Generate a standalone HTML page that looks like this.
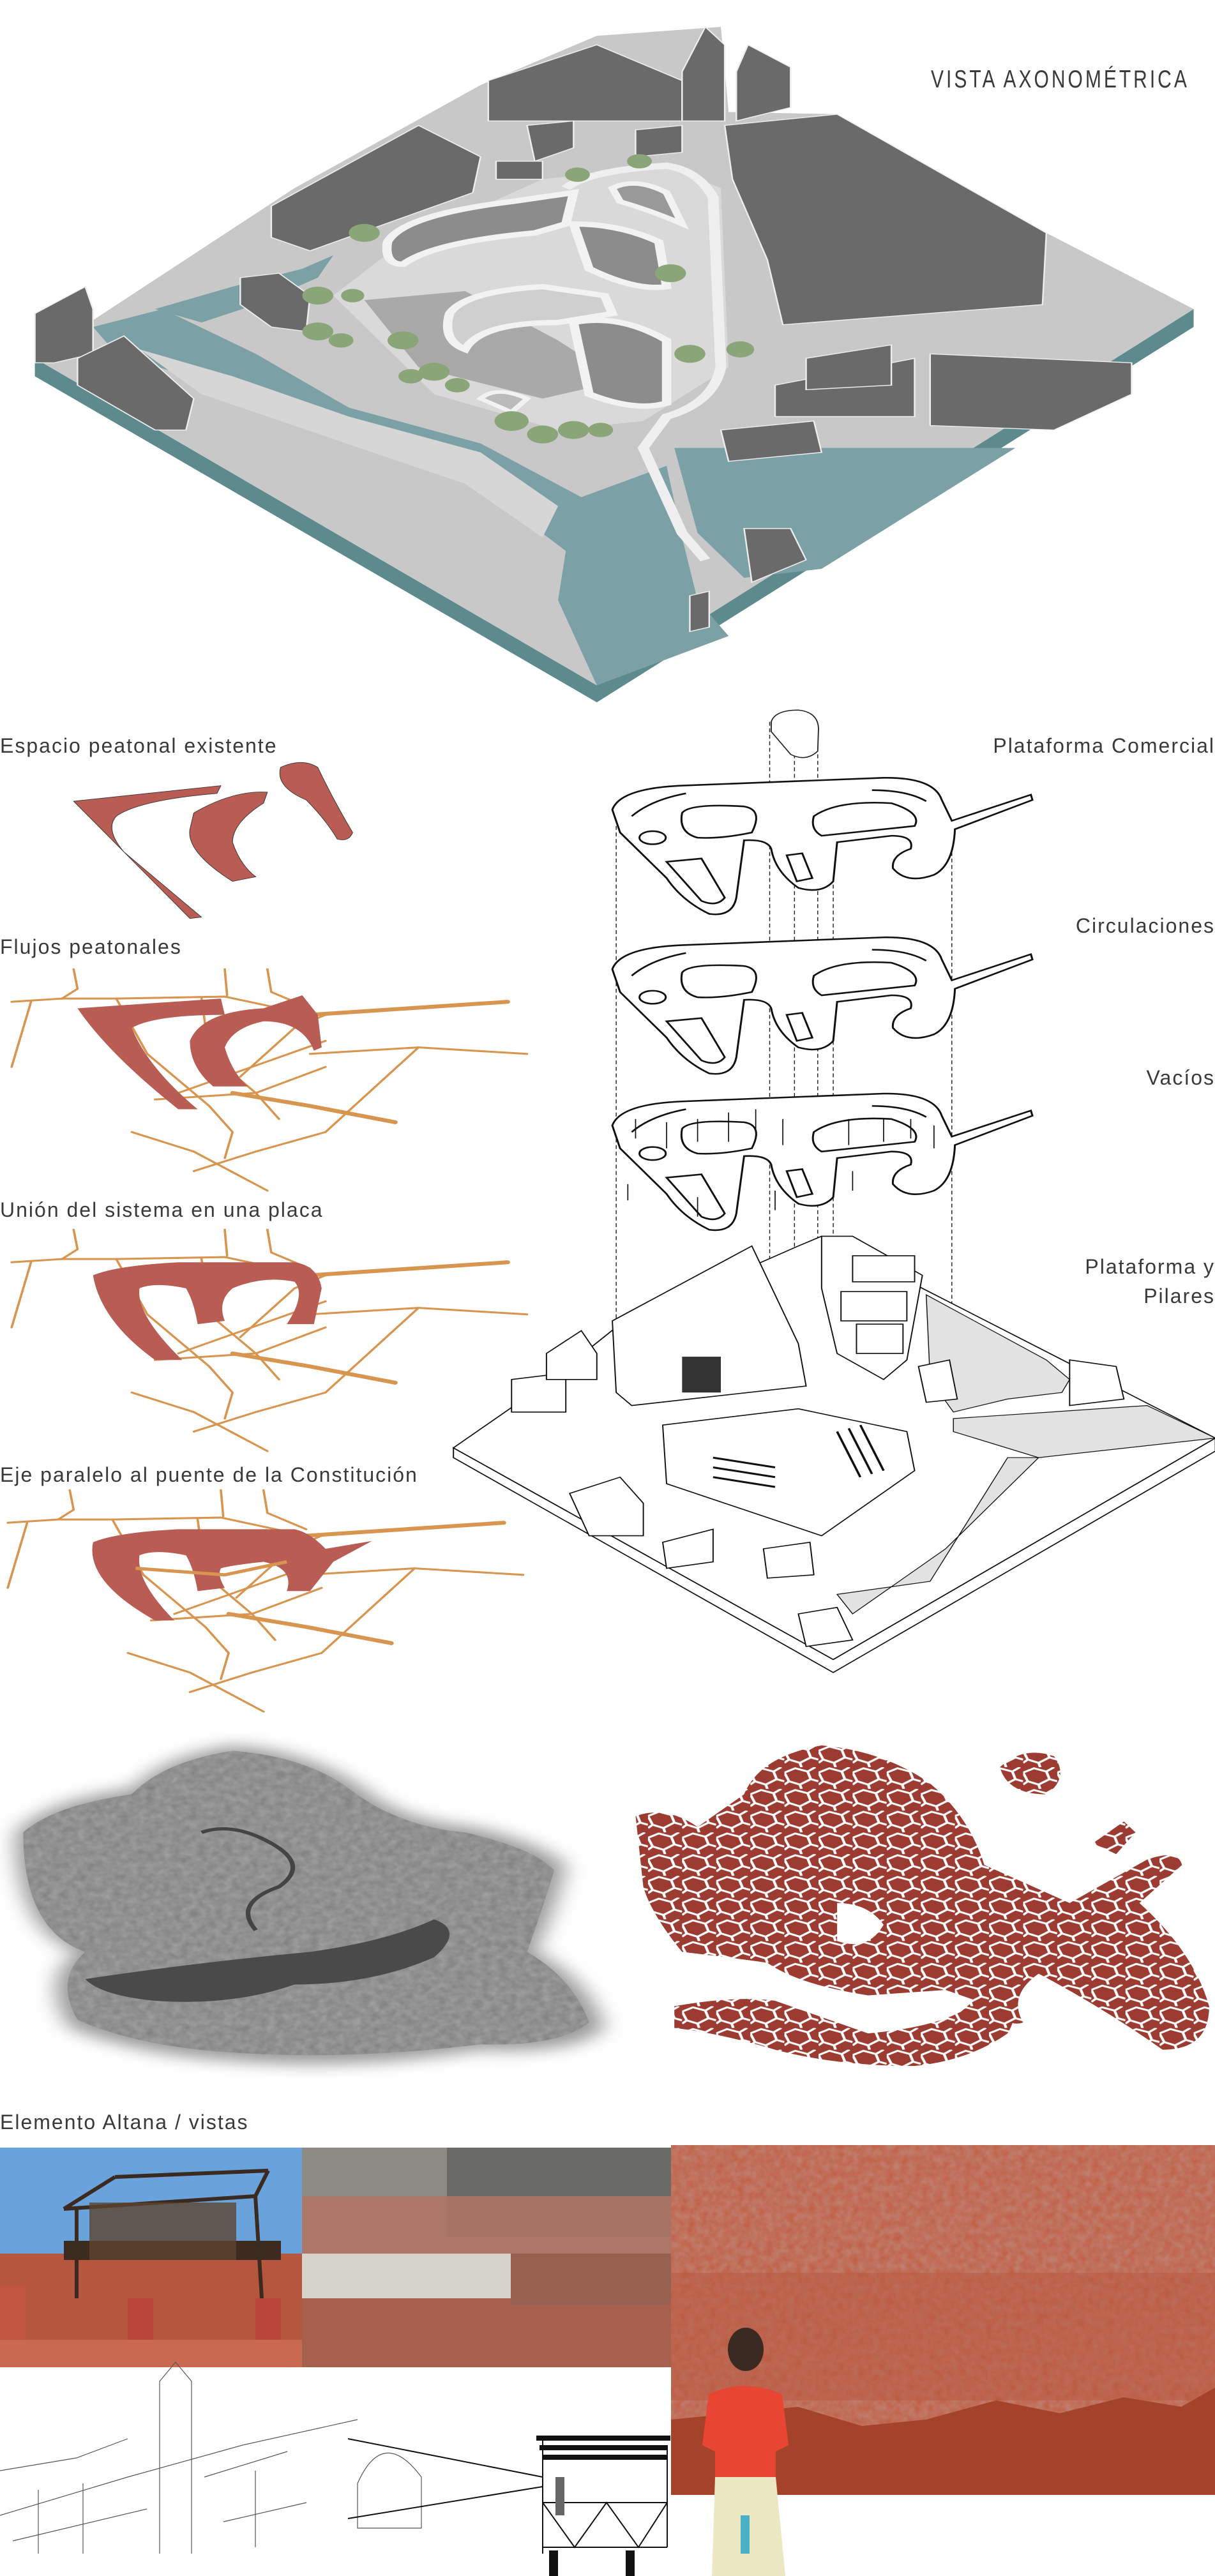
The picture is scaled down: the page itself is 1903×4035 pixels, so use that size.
<!DOCTYPE html>
<html><head><meta charset="utf-8">
<style>
html,body{margin:0;padding:0;background:#fff;}
body{width:1903px;height:4035px;position:relative;overflow:hidden;}
.t{position:absolute;font-family:"Liberation Sans Narrow","Liberation Sans",sans-serif;color:#3a3a3a;font-size:32px;letter-spacing:2px;white-space:nowrap;line-height:1;}
svg{position:absolute;left:0;top:0;}
</style></head><body>
<svg width="1903" height="4035" viewBox="0 0 1903 4035">
<defs>
<pattern id="cells" width="44" height="40" patternUnits="userSpaceOnUse">
<path d="M0,10 L14,2 L30,8 L40,0 M30,8 L34,22 L44,26 M34,22 L20,32 L6,26 L0,10 M20,32 L22,40 M6,26 L0,32" stroke="#fff" stroke-width="3.5" fill="none"/>
</pattern>
<filter id="blur"><feGaussianBlur stdDeviation="14"/></filter>
<filter id="noise"><feTurbulence type="fractalNoise" baseFrequency="0.09" numOctaves="2"/><feColorMatrix values="0 0 0 0 0.5  0 0 0 0 0.5  0 0 0 0 0.5  0 0 0 0.9 0"/><feComposite in2="SourceGraphic" operator="in"/></filter>
</defs>

<g transform="matrix(1.214 0 0 0.7016 0 0)">
<polygon points="45,800 770,1530 1540,690 1540,730 770,1568 45,840" fill="#5c8a8d"/>
<polygon points="45,800 380,420 620,190 770,80 930,60 940,250 1080,255 1350,520 1540,690 770,1530" fill="#c8c8c8"/>
<polygon points="120,730 210,690 330,790 450,910 620,990 750,1110 860,1040 880,1200 900,1340 940,1420 770,1530 720,1340 730,1230 600,1060 440,960 260,850 150,790" fill="#7ba1a6"/>
<polygon points="870,1000 1310,1000 1060,1270 960,1290 900,1190" fill="#7ba1a6"/>
<polygon points="200,690 300,640 390,600 430,570 410,620 330,680 260,720" fill="#7ba1a6"/>
<polygon points="180,780 300,840 450,930 620,1010 720,1130 700,1200 600,1080 430,980 260,880" fill="#d6d6d6"/>
<polygon points="430,660 520,540 700,400 860,370 930,420 940,820 830,940 720,960 560,880" fill="#d9d9d9"/>
<polygon points="470,670 600,650 720,760 800,850 700,890 540,820" fill="#a9a9a9"/>
<path d="M730,420 Q760,380 860,370 Q900,380 920,440 L930,820 Q920,900 860,930 L830,1000 L880,1190 L910,1250" stroke="#efefef" stroke-width="14" fill="none"/>
<path d="M500,540 Q520,480 660,450 L740,430 L730,500 L690,520 Q560,540 520,590 Q495,590 500,540Z" fill="#8c8c8c" stroke="#f2f2f2" stroke-width="12"/>
<path d="M740,500 Q800,500 850,540 L860,640 Q820,650 760,600 Z" fill="#8c8c8c" stroke="#f2f2f2" stroke-width="12"/>
<path d="M790,420 Q820,395 860,430 L880,500 Q840,470 800,450 Z" fill="#999" stroke="#f2f2f2" stroke-width="10"/>
<path d="M580,700 Q600,650 700,640 L780,660 L790,700 L720,720 Q620,720 600,780 Q570,760 580,700Z" fill="#cfcfcf" stroke="#f2f2f2" stroke-width="12"/>
<path d="M740,720 Q800,700 860,760 L860,900 Q820,920 760,880 Z" fill="#8c8c8c" stroke="#f2f2f2" stroke-width="12"/>
<path d="M620,890 Q640,860 680,890 L660,920 Z" fill="#bbb" stroke="#f2f2f2" stroke-width="8"/>
<g fill="#6a6a6a" stroke="#eee" stroke-width="2">
<polygon points="935,280 1080,255 1350,520 1345,680 1010,725 990,580 945,400"/>
<polygon points="630,180 770,100 880,180 880,270 630,270" />
<polygon points="880,160 910,60 935,100 935,270 880,270"/>
<polygon points="950,160 965,100 1020,150 1020,240 950,270"/>
<polygon points="350,460 540,280 620,350 610,430 400,560 350,530"/>
<polygon points="680,280 740,270 740,330 690,360"/>
<polygon points="820,290 880,280 880,340 820,350"/>
<polygon points="640,360 700,360 700,400 640,400"/>
<polygon points="310,620 360,610 400,660 395,740 350,730 310,680"/>
<polygon points="45,700 110,640 120,690 120,790 70,810 45,810"/>
<polygon points="100,800 160,750 250,890 240,960 200,960 100,860"/>
<polygon points="1000,860 1180,800 1180,930 1000,930"/>
<polygon points="1040,800 1150,770 1150,860 1040,870"/>
<polygon points="1200,790 1460,810 1460,880 1360,960 1200,950"/>
<polygon points="930,960 1050,940 1060,1010 940,1030"/>
<polygon points="960,1180 1020,1180 1040,1250 970,1300"/>
<polygon points="890,1330 915,1320 915,1400 890,1410"/>
</g>
<g fill="#8aa577">
<circle cx="745" cy="390" r="16"/><circle cx="825" cy="360" r="16"/><circle cx="470" cy="520" r="20"/>
<circle cx="410" cy="660" r="20"/><circle cx="455" cy="660" r="15"/><circle cx="410" cy="740" r="20"/><circle cx="440" cy="760" r="16"/>
<circle cx="520" cy="760" r="20"/><circle cx="560" cy="830" r="20"/><circle cx="590" cy="860" r="16"/><circle cx="530" cy="840" r="16"/>
<circle cx="865" cy="610" r="20"/><circle cx="890" cy="790" r="20"/><circle cx="955" cy="780" r="18"/>
<circle cx="660" cy="940" r="22"/><circle cx="700" cy="970" r="20"/><circle cx="740" cy="960" r="20"/><circle cx="775" cy="960" r="16"/>
</g>
</g>

<g transform="matrix(1.214 0 0 1.02 0 1100)">
<g fill="#b85c54" stroke="#333" stroke-width="0.8">
<path d="M95,152 L285,128 L280,140 Q180,150 150,175 Q135,195 160,230 L260,330 L245,332 Z"/>
<path d="M250,170 Q300,135 345,138 L340,155 Q300,185 300,215 Q310,250 330,268 L300,275 Q240,230 245,195Z"/>
<path d="M362,100 Q390,85 410,100 Q430,150 455,200 Q450,215 435,210 Q420,180 395,150 Q355,130 362,100Z"/>
</g>
<g id="net" fill="none" stroke="#d8954f" stroke-width="3" stroke-linecap="round">
<path d="M15,460 L80,455 L150,455 L290,452 L400,480"/>
<path d="M95,410 L100,440 L80,455 M290,410 L293,450 M345,410 L350,445 L400,470"/>
<path d="M40,460 L15,560"/>
<path d="M150,455 L190,540 L270,620 L300,660 L290,700"/>
<path d="M260,455 L270,540 L330,600 L360,640"/>
<path d="M300,600 L400,620 L510,645" stroke-width="6"/>
<path d="M400,480 L655,460" stroke-width="6"/>
<path d="M400,540 L540,530 L680,540"/>
<path d="M170,660 L250,690 L345,750"/>
<path d="M250,720 L330,690 L420,660 L540,530"/>
<path d="M200,610 L330,600 L420,560"/>
<path d="M230,600 L420,520"/>
<path d="M310,575 L380,500 L420,480"/>
</g>
<path d="M100,470 L285,455 L290,480 Q200,480 170,500 Q190,560 255,625 L230,625 Q140,540 100,470Z" fill="#b85c54"/>
<path d="M245,520 Q260,475 340,470 L390,450 L410,480 L415,530 L405,535 Q390,490 340,490 Q300,500 290,530 Q300,570 320,590 L275,590 Q245,560 245,520Z" fill="#b85c54"/>
<use href="#net" transform="translate(0,400)"/>
<use href="#net" transform="translate(-5,800)"/>
<path d="M120,880 Q150,865 230,860 L380,860 Q410,865 415,900 L405,955 L370,955 Q395,910 380,890 Q340,880 300,900 Q280,920 290,950 L255,955 Q250,920 240,900 Q200,890 180,900 Q175,940 235,1010 L200,1010 Q130,950 120,880Z" fill="#b85c54"/>
<path d="M120,1290 Q150,1275 230,1270 L380,1270 Q400,1275 420,1300 L480,1288 L430,1320 L400,1365 L370,1365 Q380,1330 340,1320 Q300,1325 285,1330 Q280,1340 290,1360 L255,1365 Q250,1330 240,1310 Q200,1300 180,1310 Q175,1350 225,1410 L200,1410 Q110,1350 120,1290Z" fill="#b85c54"/>
<g fill="none" stroke="#d8954f" stroke-width="5"><path d="M175,1330 L290,1340 L370,1320"/></g>

<g fill="none" stroke="#222" stroke-width="1.2" stroke-dasharray="6,4">
<path d="M795,190 V1090 M993,30 V1000 M1025,40 V1110 M1055,60 V1050 M1075,230 V1160 M1228,190 V1050"/>
</g>
<path d="M995,30 Q1000,12 1030,12 Q1055,15 1056,40 L1055,75 Q1040,92 1020,80 L995,45Z" fill="#fff" stroke="#222" stroke-width="1.5"/>
<g id="plate" fill="#fff" stroke="#111" stroke-width="2.5">
<path d="M790,165 Q800,132 880,128 L1140,116 Q1205,115 1215,150 L1228,182 L1330,142 L1332,150 L1232,195 Q1230,250 1205,265 Q1170,280 1152,255 Q1150,235 1175,225 Q1180,205 1150,205 L1080,215 L1075,275 Q1060,295 1030,285 Q1000,260 995,225 Q990,210 960,212 L950,300 Q945,330 915,325 Q880,305 860,270 L800,200Z"/>
<path d="M880,170 Q890,155 960,160 Q985,165 970,200 Q930,210 900,208 Q875,200 880,170Z"/>
<path d="M1050,175 Q1080,150 1150,155 Q1190,170 1180,190 L1060,205 Q1045,195 1050,175Z"/>
<ellipse cx="842" cy="208" rx="17" ry="10"/>
<path d="M860,245 L905,240 L935,300 Q925,315 905,305 Z"/>
<path d="M1015,235 L1035,232 L1048,270 L1028,275Z"/>
<path d="M815,175 Q840,150 885,140 M1125,135 Q1170,135 1195,152"/>
</g>
<use href="#plate" transform="translate(0,245)"/>
<use href="#plate" transform="translate(0,485)"/>
<g stroke="#111" stroke-width="1.4" fill="none">
<path d="M820,640 v30 M860,645 v40 M900,640 v35 M940,630 v45 M975,625 v30 M1010,640 v40 M1095,640 v40 M1140,640 v35 M1175,640 v30 M1205,650 v35 M810,740 v25 M900,760 v30 M1000,750 v30 M1100,720 v30"/>
</g>
<g fill="#fff" stroke="#111" stroke-width="1.6">
<polygon points="585,1145 1075,1470 1568,1130 1568,1150 1075,1490 585,1160" />
<polygon points="585,1145 700,1050 800,955 1030,835 1060,820 1190,900 1568,1130 1075,1470"/>
</g>
<polygon points="1195,910 1350,1010 1380,1040 1370,1060 1300,1070 1230,1090 1200,1040" fill="#e2e2e2" stroke="#111" stroke-width="1.2"/>
<polygon points="1230,1100 1480,1080 1568,1130 1340,1160 1230,1120" fill="#e2e2e2" stroke="#111" stroke-width="1.2"/>
<polygon points="1080,1370 1200,1350 1300,1160 1340,1160 1220,1300 1100,1400" fill="#e2e2e2" stroke="#111" stroke-width="1.2"/>
<g fill="#fff" stroke="#111" stroke-width="1.6">
<polygon points="790,950 970,835 1030,985 1040,1050 815,1080 795,1060"/>
<polygon points="855,1110 1030,1085 1170,1120 1180,1180 1060,1280 860,1200"/>
<polygon points="1060,820 1100,820 1190,880 1170,1010 1140,1040 1080,1000 1060,900"/>
<rect x="1100" y="850" width="80" height="40"/><rect x="1085" y="905" width="85" height="45"/><rect x="1105" y="955" width="60" height="45"/>
<polygon points="660,1040 730,1030 730,1090 660,1090"/>
<polygon points="705,1000 750,965 770,1000 770,1040 705,1040"/>
<polygon points="735,1215 800,1190 830,1230 830,1280 760,1280"/>
<polygon points="855,1290 920,1270 920,1320 860,1330"/>
<polygon points="985,1300 1045,1290 1050,1340 990,1345"/>
<polygon points="1380,1010 1440,1020 1450,1070 1380,1080"/>
<polygon points="1185,1020 1225,1010 1235,1070 1195,1075"/>
<polygon points="1030,1400 1080,1390 1100,1440 1040,1450"/>
</g>
<rect x="880" y="1005" width="50" height="55" fill="#333"/>
<g stroke="#111" stroke-width="3"><path d="M920,1160 L1000,1175 M920,1175 L1000,1190 M920,1190 L1000,1205 M1080,1120 L1110,1190 M1095,1115 L1125,1185 M1110,1110 L1140,1180"/></g>
</g>

<g transform="matrix(1.214 0 0 0.851 0 2700)">
<path d="M20,200 Q60,140 170,120 Q210,60 300,40 Q400,50 470,120 Q520,180 610,190 Q700,220 730,260 Q720,330 690,420 Q760,470 780,560 Q740,610 620,600 Q450,640 300,620 Q180,610 90,560 Q50,470 100,420 Q20,380 20,200Z" fill="#9a9a9a" filter="url(#blur)"/>
<path d="M30,200 Q70,150 170,130 Q210,70 300,50 Q400,60 460,130 Q520,190 600,200 Q690,230 715,270 Q700,340 680,420 Q740,470 760,550 Q720,595 620,590 Q450,620 300,605 Q180,595 100,545 Q70,470 110,420 Q30,380 30,200Z" fill="#7d7d7d"/>
<path d="M30,200 Q70,150 170,130 Q210,70 300,50 Q400,60 460,130 Q520,190 600,200 Q690,230 715,270 Q700,340 680,420 Q740,470 760,550 Q720,595 620,590 Q450,620 300,605 Q180,595 100,545 Q70,470 110,420 Q30,380 30,200Z" fill="#ccc" filter="url(#noise)" opacity="0.7"/>
<path d="M110,470 Q250,440 400,420 Q500,400 560,360 Q600,380 560,430 Q480,480 380,480 Q300,520 200,510 Q130,500 110,470Z" fill="#4a4a4a"/>
<path d="M260,200 Q300,180 350,220 Q400,260 360,300 Q300,330 330,380" stroke="#444" stroke-width="6" fill="none"/>
<g>
<path d="M820,170 Q860,150 900,190 L960,130 Q980,60 1060,40 Q1140,50 1200,110 Q1250,170 1270,260 L1380,330 L1480,250 Q1520,230 1525,260 L1470,330 Q1540,420 1560,520 Q1560,600 1500,600 Q1420,520 1340,460 Q1300,500 1320,550 Q1300,560 1280,520 L1220,490 L1120,500 Q1030,480 990,440 Q940,430 880,420 Q840,350 830,300 Z" fill="#9c3b31"/>
<path d="M870,520 Q950,500 1000,510 Q1060,540 1120,570 Q1200,560 1240,530 Q1270,490 1300,480 Q1320,520 1300,570 Q1250,620 1180,630 Q1080,630 1000,600 Q930,570 870,560Z" fill="#9c3b31"/>
<path d="M1290,80 Q1320,40 1360,60 Q1380,100 1350,130 Q1300,130 1290,80Z" fill="#9c3b31"/>
<path d="M1410,220 L1450,180 L1465,200 L1440,240Z" fill="#9c3b31"/>
<path d="M1080,330 Q1120,330 1140,370 Q1120,420 1080,400 Z" fill="#fff"/>
<rect x="800" y="30" width="768" height="620" fill="url(#cells)"/>
</g>
</g>

<rect x="0" y="3364" width="473" height="344" fill="#6aa3dc"/>
<rect x="0" y="3530" width="473" height="178" fill="#b5573f"/>
<rect x="100" y="3510" width="340" height="30" fill="#3d2b20"/>
<g stroke="#3a2a1f" stroke-width="6" fill="none"><path d="M100,3460 L400,3440 M120,3460 L120,3600 M400,3440 L410,3600 M180,3410 L420,3400 M100,3460 L180,3410 M420,3400 L400,3440"/></g>
<rect x="140" y="3450" width="230" height="90" fill="#5d4430" opacity="0.8"/>
<rect x="200" y="3600" width="40" height="80" fill="#b8473a"/><rect x="400" y="3600" width="40" height="80" fill="#b8473a"/>
<rect x="0" y="3580" width="40" height="128" fill="#c0553f"/>
<rect x="0" y="3665" width="473" height="43" fill="#c96a50"/>

<rect x="473" y="3364" width="578" height="344" fill="#a38e84"/>
<rect x="700" y="3364" width="351" height="140" fill="#6a6a66"/>
<rect x="473" y="3364" width="227" height="80" fill="#8e8a86"/>
<rect x="473" y="3440" width="578" height="90" fill="#ae7464" opacity="0.9"/>
<rect x="473" y="3530" width="330" height="80" fill="#d6d2cc"/>
<rect x="473" y="3600" width="578" height="108" fill="#a8604e"/>
<rect x="800" y="3530" width="251" height="80" fill="#96614f"/>

<rect x="1051" y="3360" width="852" height="548" fill="#c25a3f"/>
<rect x="1051" y="3360" width="852" height="548" fill="#e07a5a" filter="url(#noise)" opacity="0.5"/>
<rect x="1051" y="3560" width="852" height="200" fill="#b8573f" opacity="0.5"/>
<path d="M1051,3790 L1150,3780 L1250,3770 L1350,3800 L1450,3790 L1560,3760 L1660,3780 L1760,3755 L1850,3770 L1903,3740 L1903,3908 L1051,3908Z" fill="#a5432a"/>
<ellipse cx="1168" cy="3680" rx="28" ry="34" fill="#3b2a22"/>
<path d="M1110,3750 Q1165,3725 1225,3750 L1235,3830 L1215,3840 L1215,3880 L1120,3880 L1120,3840 L1100,3830Z" fill="#e84633"/>
<path d="M1120,3880 L1215,3880 L1230,4035 L1115,4035Z" fill="#ece8c4"/>
<rect x="1160" y="3940" width="14" height="60" fill="#4ab0c6"/>
<g stroke="#555" stroke-width="1.2" fill="none">
<path d="M250,3730 V4000 M300,3730 V4000 M250,3730 L275,3700 L300,3730 M0,3940 L200,3880 L380,3830 L560,3790 M20,3980 L230,3930 M560,3890 Q600,3800 660,3880 V3960 L560,3960Z M0,3870 L120,3850 L200,3820 M320,3880 L450,3840 M350,3950 L480,3920 M60,3900 V4000 M130,3890 V4000 M400,3870 V3990"/>
</g>
<g stroke="#111" stroke-width="2" fill="none">
<path d="M545,3820 L850,3880 M545,3945 L850,3895"/>
<path d="M850,3820 V4000 M1045,3830 V3990 M850,3920 H1045 M850,3990 H1045 M850,3920 L900,3990 L950,3920 L1000,3990 L1045,3920"/>
</g>
<g fill="#111"><rect x="840" y="3815" width="210" height="8"/><rect x="845" y="3830" width="200" height="8"/><rect x="850" y="3845" width="195" height="8"/><rect x="860" y="3995" width="14" height="40"/><rect x="980" y="3995" width="14" height="40"/></g>
<rect x="870" y="3880" width="14" height="60" fill="#666"/>
</svg>

<div class="t" style="left:1458px;top:106px;font-size:30px;letter-spacing:4px;transform:scaleY(1.3);transform-origin:left top;">VISTA AXONOMÉTRICA</div>
<div class="t" style="left:0;top:1152px;">Espacio peatonal existente</div>
<div class="t" style="left:0;top:1467px;">Flujos peatonales</div>
<div class="t" style="left:0;top:1879px;">Unión del sistema en una placa</div>
<div class="t" style="left:0;top:2294px;">Eje paralelo al puente de la Constitución</div>
<div class="t" style="right:0;top:1152px;">Plataforma Comercial</div>
<div class="t" style="right:0;top:1434px;">Circulaciones</div>
<div class="t" style="right:0;top:1672px;">Vacíos</div>
<div class="t" style="right:0;top:1961px;text-align:right;line-height:46px;">Plataforma y<br>Pilares</div>
<div class="t" style="left:0;top:3308px;">Elemento Altana / vistas</div>
</body></html>
